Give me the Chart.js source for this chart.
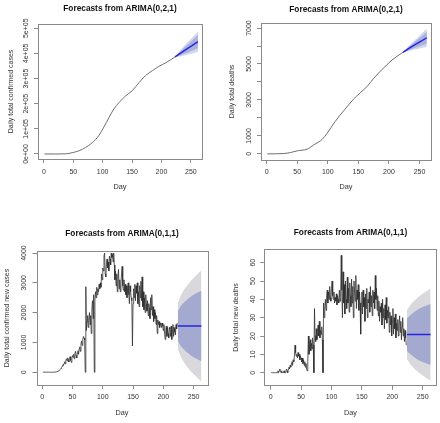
<!DOCTYPE html>
<html>
<head>
<meta charset="utf-8">
<script src="https://cdn.jsdelivr.net/npm/chart.js@4.4.0/dist/chart.umd.min.js"></script>
<style>
  html, body { margin: 0; padding: 0; background: #fff; }
  #wrap { position: relative; width: 440px; height: 423px; overflow: hidden; }
  canvas { position: absolute; }
</style>
</head>
<body>
<div id="wrap">
  <canvas id="c1" width="220" height="200" style="left:0;top:0"></canvas>
  <canvas id="c2" width="220" height="200" style="left:220px;top:0"></canvas>
  <canvas id="c3" width="220" height="223" style="left:0;top:200px"></canvas>
  <canvas id="c4" width="220" height="223" style="left:220px;top:200px"></canvas>
</div>
<script>
// x axis ticks, same for every panel
const dayTicks = [0, 50, 100, 150, 200, 250];

// panel 1: cumulative confirmed cases
const casesDays = [1, 20, 37, 48, 60, 71, 82, 94, 102, 111, 119, 128, 139, 150, 162, 173, 185, 196, 207, 223];
const casesTotal = [0, 0, 500, 5000, 13000, 26000, 44000, 75000, 107000, 146000, 179000, 205000, 231000, 251000, 284000, 312000, 332000, 349000, 362000, 386000];
const casesTicks = [0, 100000, 200000, 300000, 400000, 500000];
const casesTickLabels = ['0e+00', '1e+05', '2e+05', '3e+05', '4e+05', '5e+05'];
const casesFcDays = [223, 232, 242, 252, 262];
const casesFcMean = [386000, 400000, 416000, 431000, 447000];
const casesHi80 = [386000, 408000, 430000, 451000, 473000];
const casesLo80 = [386000, 392000, 402000, 411000, 421000];
const casesHi95 = [386000, 412000, 438000, 462000, 487000];
const casesLo95 = [386000, 388000, 394000, 400000, 407000];

// panel 2: cumulative deaths
const deathsDays = [1, 28, 39, 50, 66, 77, 91, 99, 112, 126, 142, 153, 164, 175, 189, 205, 223];
const deathsTotal = [0, 20, 75, 170, 260, 500, 815, 1150, 1800, 2400, 3040, 3400, 3740, 4200, 4700, 5220, 5650];
const deathsTicks = [0, 1000, 2000, 3000, 4000, 5000, 6000, 7000];
const deathsTickLabels = ['0', '1000', '', '3000', '', '5000', '', '7000'];
const deathsFcDays = [223, 232, 242, 252, 262];
const deathsFcMean = [5650, 5850, 6060, 6260, 6460];
const deathsHi80 = [5650, 5940, 6230, 6500, 6790];
const deathsLo80 = [5650, 5760, 5890, 6020, 6130];
const deathsHi95 = [5650, 5990, 6320, 6640, 6980];
const deathsLo95 = [5650, 5710, 5800, 5880, 5940];

// panel 3: daily new cases, day 1..223
const newCases = [
  0, 0, 0, 0, 0, 0, 0, 0, 0, 0, 0, 0, 0, 0, 0, 0, 0, 0, 0, 0,
  5, 8, 10, 15, 20, 30, 45, 60, 80, 100,
  130, 160, 200, 250, 220, 300, 350, 280, 400, 450,
  380, 480, 420, 350, 470, 520, 400, 330, 480, 560,
  500, 600, 450, 620, 700, 560, 480, 650, 720, 600,
  780, 850, 700, 950, 1050, 900, 1100, 1200, 1150, 1080,
  0, 2870, 1400,
  1700, 1900, 1500, 1750, 2000, 1600, 1900, 1300, 2100, 2400, 1800, 2600,
  0,
  2400, 2700, 2500, 2850, 2600, 2800, 2700, 2950, 2800,
  3000, 2850, 3300, 3100, 3500, 3400, 3900, 4000, 3300, 3200,
  3600, 3800, 3500, 3700, 3400, 3900, 3800, 3600, 4000, 3850, 3950, 3700, 4000, 3600, 3100,
  3400, 2900, 3300, 2700, 3200, 3450, 2800, 3100, 2700, 3000, 3300, 3550, 2900, 2750, 3100,
  2700, 2950, 2600, 2900, 2500, 2800, 3000, 2600, 2300, 2900, 2700, 2500, 2400,
  880,
  2300, 2800, 2500, 2950, 2400, 2900, 2650, 3000, 2300, 2700, 2200, 2900, 2500, 3050, 2400, 3200,
  2200, 2700, 2100, 2500, 2000, 2600, 2300, 2050, 2400, 1900, 2300, 2150, 1800, 2500, 2100,
  2600, 1900, 2200, 1700, 2100, 1800, 2000, 1600, 1900, 1300, 1750, 1600, 1700, 1500, 1650,
  1600, 1500, 1650, 1550, 1400, 1600, 1350, 1100, 1400, 1550, 1200, 1500, 1300, 1150, 1500,
  1450, 1200, 1550, 1100, 1400, 1600, 1200, 1500, 1350, 1250, 1600, 1450, 1650
];
const newCasesTicks = [0, 1000, 2000, 3000, 4000];
const newCasesTickLabels = ['0', '1000', '2000', '3000', '4000'];
const newCasesFcDays = [224, 230, 240, 250, 263];
const newCasesFcMean = [1550, 1550, 1550, 1550, 1550];
const newCasesHi80 = [2050, 2250, 2450, 2600, 2730];
const newCasesLo80 = [1050, 850, 650, 500, 370];
const newCasesHi95 = [2320, 2620, 2930, 3160, 3420];
const newCasesLo95 = [780, 480, 170, -60, -320];

// panel 4: daily new deaths, day 1..223
const newDeaths = [
  0, 0, 0, 0, 0, 0, 0, 0, 0, 0,
  0, 1, 0, 1, 2, 1, 0, 1, 0, 0,
  0, 1, 0, 0, 1, 2, 1, 0, 2, 3,
  2, 4, 3, 5, 6, 4, 7, 6, 9, 15,
  11, 9, 10, 8, 11, 9, 10, 7, 9, 8,
  6, 8, 5, 7, 4, 6, 3, 5, 2, 1,
  6, 20, 10, 14, 18, 12, 16, 13, 19, 15,
  0, 35,
  20, 17, 24, 18, 22, 26, 20, 28, 19, 23, 21, 25, 18,
  0,
  38, 30, 36, 40, 34, 42, 45, 38, 44, 40, 47, 41, 39, 46,
  50, 42, 40, 44, 38, 41, 39, 43, 37, 42, 40, 38, 45, 39, 41,
  64,
  45, 30, 55, 38, 48, 32, 50, 40, 35, 52, 38, 46, 33, 49,
  42, 36, 51, 38, 47, 30, 50, 44, 39, 53, 35, 45, 40, 48, 34, 44, 38, 21,
  38, 44, 32, 45, 36, 41, 28, 43, 35, 46, 30, 40, 38, 44, 33, 47, 36, 42, 31, 45,
  38, 44, 35, 53, 40, 46, 34, 42, 31, 39, 28, 36,
  33, 38, 26, 40, 30, 35, 24, 37, 29, 41, 27, 34, 30, 36, 22,
  33, 26, 31, 20, 28, 35, 21, 30, 24, 32, 19, 27, 23, 29, 20,
  26, 31, 22, 28, 18, 25, 30, 20, 24, 17, 23, 19, 15
];
const newDeathsTicks = [0, 10, 20, 30, 40, 50, 60];
const newDeathsTickLabels = ['0', '10', '20', '30', '40', '50', '60'];
const newDeathsFcDays = [224, 230, 240, 250, 263];
const newDeathsFcMean = [20.8, 20.8, 20.8, 20.8, 20.8];
const newDeathsHi80 = [29.6, 31.5, 34, 35.8, 37.5];
const newDeathsLo80 = [12, 10, 7.5, 5.8, 4.2];
const newDeathsHi95 = [34, 37, 40.5, 43, 46];
const newDeathsLo95 = [7.5, 4.5, 1, -1.5, -4.5];

const FONT = '"Liberation Sans", Arial, Helvetica, sans-serif';
const TL = 4; // tick length

function pts(xs, ys) { return ys.map((y, i) => ({ x: xs[i], y: y })); }
function byDay(ys) { return ys.map((y, i) => ({ x: i + 1, y: y })); }

// forecast mean line + 80% and 95% bands
function fan(days, mean, hi80, lo80, hi95, lo95, c80, c95) {
  const band = (vals, fill, color) => ({
    data: pts(days, vals), fill: fill, backgroundColor: color,
    borderColor: 'rgba(0,0,0,0)', borderWidth: 0, pointRadius: 0,
    cubicInterpolationMode: 'monotone'
  });
  return [
    { data: pts(days, mean), borderColor: '#2424e0', borderWidth: 1.4, pointRadius: 0, fill: false },
    band(hi80, '+1', c80), band(lo80, false, c80),
    band(hi95, '+1', c95), band(lo95, false, c95)
  ];
}

// box round the plot region + main title
const frame = {
  id: 'frame',
  afterDraw(chart, args, opts) {
    const { ctx, chartArea: a } = chart;
    ctx.save();
    ctx.strokeStyle = '#8a8a8a';
    ctx.lineWidth = 1;
    ctx.strokeRect(Math.round(a.left) + 0.5, Math.round(a.top) + 0.5,
      Math.round(a.right - a.left), Math.round(a.bottom - a.top));
    ctx.fillStyle = '#111';
    ctx.font = 'bold 8.3px ' + FONT;
    ctx.textAlign = 'center';
    ctx.textBaseline = 'middle';
    ctx.fillText(opts.title, (a.left + a.right) / 2, opts.y);
    ctx.restore();
  }
};

const measure = document.createElement('canvas').getContext('2d');
measure.font = '7px ' + FONT;

function panel(id, p) {
  const widest = Math.max(...p.yLabels.map(s => measure.measureText(s).width));
  new Chart(document.getElementById(id), {
    type: 'line',
    data: { datasets: p.datasets },
    options: {
      responsive: false,
      animation: false,
      devicePixelRatio: 1,
      layout: { padding: p.pad },
      plugins: {
        legend: { display: false },
        tooltip: { enabled: false },
        frame: { title: p.title, y: p.titleY }
      },
      scales: {
        x: {
          type: 'linear', min: p.xMin, max: p.xMax,
          afterBuildTicks: s => { s.ticks = dayTicks.map(v => ({ value: v })); },
          afterFit: s => { s.height = p.xH; },
          ticks: {
            autoSkip: false, maxRotation: 0, padding: p.xPad, color: '#333',
            font: { family: FONT, size: 7 }, callback: v => String(v)
          },
          grid: { drawOnChartArea: false, tickLength: TL, color: '#8a8a8a' },
          border: { display: false },
          title: { display: true, text: 'Day', color: '#333', font: { family: FONT, size: 7.3 }, padding: { top: 0, bottom: 0 } }
        },
        y: {
          type: 'linear', min: p.yMin, max: p.yMax,
          afterBuildTicks: s => { s.ticks = p.yTicks.map(v => ({ value: v })); },
          afterFit: s => { s.width = p.yW; },
          ticks: {
            autoSkip: false, minRotation: 90, maxRotation: 90, crossAlign: 'center',
            padding: p.yTickOff - TL - widest / 2, color: '#333',
            font: { family: FONT, size: 7 }, callback: (v, i) => p.yLabels[i]
          },
          grid: { drawOnChartArea: false, tickLength: TL, color: '#8a8a8a' },
          border: { display: false },
          title: { display: true, text: p.yTitle, color: '#333', font: { family: FONT, size: 7 }, padding: { top: p.yTitleX - 4.2, bottom: 0 } }
        }
      }
    },
    plugins: [frame]
  });
}

const histTop = { borderColor: '#6e6e6e', borderWidth: 1, pointRadius: 0, fill: false, cubicInterpolationMode: 'monotone' };
const histBottom = { borderColor: '#2e2e2e', borderWidth: 0.8, pointRadius: 0, fill: false };
const topC80 = '#a9b1dc', topC95 = '#d3d7ea';
const botC80 = '#a4a9cf', botC95 = '#d9d9dd';

panel('c1', {
  title: 'Forecasts from ARIMA(0,2,1)', titleY: 9,
  pad: { left: 0, right: 18, top: 24, bottom: 9 },
  xMin: -10, xMax: 269, xH: 32, xPad: 4.8,
  yMin: -20000, yMax: 517000, yW: 38, yTickOff: 12, yTitleX: 11,
  yTicks: casesTicks, yLabels: casesTickLabels, yTitle: 'Daily total confirmed cases',
  datasets: [Object.assign({ data: pts(casesDays, casesTotal) }, histTop)]
    .concat(fan(casesFcDays, casesFcMean, casesHi80, casesLo80, casesHi95, casesLo95, topC80, topC95))
});

panel('c2', {
  title: 'Forecasts from ARIMA(0,2,1)', titleY: 9.3,
  pad: { left: 0, right: 9, top: 23, bottom: 8.5 },
  xMin: -9.3, xMax: 268.8, xH: 31.5, xPad: 4.1,
  yMin: -340, yMax: 7280, yW: 41, yTickOff: 12, yTitleX: 12,
  yTicks: deathsTicks, yLabels: deathsTickLabels, yTitle: 'Daily total deaths',
  datasets: [Object.assign({ data: pts(deathsDays, deathsTotal) }, histTop)]
    .concat(fan(deathsFcDays, deathsFcMean, deathsHi80, deathsLo80, deathsHi95, deathsLo95, topC80, topC95))
});

panel('c3', {
  title: 'Forecasts from ARIMA(0,1,1)', titleY: 33.3,
  pad: { left: 0, right: 12.5, top: 51, bottom: 5.5 },
  xMin: -9.5, xMax: 273, xH: 32.5, xPad: 4.1,
  yMin: -430, yMax: 4068, yW: 36.5, yTickOff: 12.5, yTitleX: 7.5,
  yTicks: newCasesTicks, yLabels: newCasesTickLabels, yTitle: 'Daily total confirmed new cases',
  datasets: [Object.assign({ data: byDay(newCases) }, histBottom)]
    .concat(fan(newCasesFcDays, newCasesFcMean, newCasesHi80, newCasesLo80, newCasesHi95, newCasesLo95, botC80, botC95))
});

panel('c4', {
  title: 'Forecasts from ARIMA(0,1,1)', titleY: 33,
  pad: { left: 0, right: 3.3, top: 49.3, bottom: 5.5 },
  xMin: -10.5, xMax: 273, xH: 31.8, xPad: 3.4,
  yMin: -7.1, yMax: 67.3, yW: 44.3, yTickOff: 11.6, yTitleX: 16,
  yTicks: newDeathsTicks, yLabels: newDeathsTickLabels, yTitle: 'Daily total new deaths',
  datasets: [Object.assign({ data: byDay(newDeaths) }, histBottom)]
    .concat(fan(newDeathsFcDays, newDeathsFcMean, newDeathsHi80, newDeathsLo80, newDeathsHi95, newDeathsLo95, botC80, botC95))
});
</script>
</body>
</html>
